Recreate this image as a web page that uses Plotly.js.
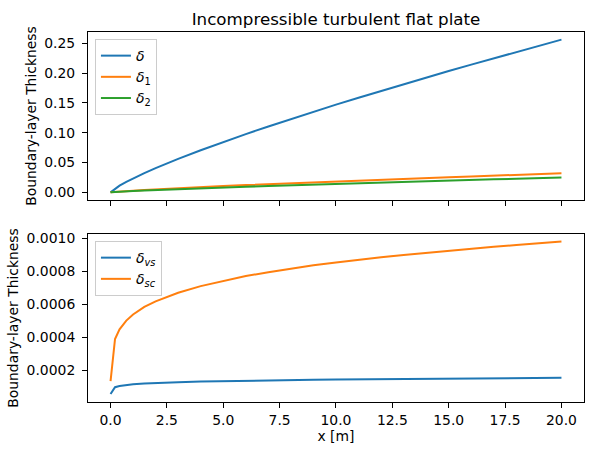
<!DOCTYPE html>
<html>
<head>
<meta charset="utf-8">
<script src="https://cdn.plot.ly/plotly-3.0.1.min.js"></script>
<style>html,body{margin:0;padding:0;background:#fff;}#chart{width:593px;height:455px;}</style>
</head>
<body>
<div id="chart"></div>
<script>
// x positions [m]
const xPos = [0.001, 0.2, 0.4, 0.7, 1, 1.5, 2, 2.5, 3, 4, 5, 6, 7, 8, 9, 10, 11, 12, 13, 14, 15, 16, 17, 18, 19, 20];
// boundary-layer thickness delta
const delta = [0.0001, 0.00643, 0.01119, 0.01751, 0.0233, 0.0322, 0.0406, 0.0485, 0.0561, 0.0706, 0.0845, 0.0977, 0.1105, 0.1230, 0.1351, 0.1470, 0.1587, 0.1701, 0.1814, 0.1925, 0.2034, 0.2141, 0.2248, 0.2353, 0.2457, 0.2560];
// displacement thickness delta_1
const delta1 = [0.0000116, 0.0008, 0.0014, 0.0022, 0.0029, 0.0040, 0.0051, 0.0061, 0.0070, 0.0088, 0.0106, 0.0122, 0.0138, 0.0154, 0.0169, 0.0184, 0.0198, 0.0213, 0.0227, 0.0241, 0.0254, 0.0268, 0.0281, 0.0294, 0.0307, 0.0320];
// momentum thickness delta_2
const delta2 = [0.00001, 0.00063, 0.00109, 0.0017, 0.00227, 0.00313, 0.00395, 0.00472, 0.00545, 0.00686, 0.00822, 0.0095, 0.01074, 0.01196, 0.01313, 0.01429, 0.01543, 0.01654, 0.01764, 0.01871, 0.01977, 0.02082, 0.02186, 0.02288, 0.02389, 0.02489];
// viscous sublayer thickness
const deltaVs = [0.0000560, 0.0000978, 0.0001048, 0.0001109, 0.0001149, 0.0001196, 0.0001231, 0.0001259, 0.0001282, 0.0001320, 0.0001349, 0.0001374, 0.0001395, 0.0001414, 0.0001431, 0.0001446, 0.0001460, 0.0001473, 0.0001485, 0.0001496, 0.0001506, 0.0001516, 0.0001525, 0.0001534, 0.0001542, 0.0001550];
// sublayer (sc) thickness
const deltaSc = [0.000134, 0.000390, 0.000448, 0.000501, 0.000538, 0.000584, 0.000618, 0.000646, 0.000670, 0.000710, 0.000742, 0.000771, 0.000794, 0.000816, 0.000836, 0.000853, 0.000870, 0.000885, 0.000899, 0.000912, 0.000925, 0.000937, 0.000948, 0.000959, 0.000970, 0.000980];

const xTicks = [0, 2.5, 5, 7.5, 10, 12.5, 15, 17.5, 20];
const xTickText = ["0.0", "2.5", "5.0", "7.5", "10.0", "12.5", "15.0", "17.5", "20.0"];
const yTopTicks = [0, 0.05, 0.10, 0.15, 0.20, 0.25];
const yBotTicks = [0.0002, 0.0004, 0.0006, 0.0008, 0.0010];

const C = ['#1f77b4', '#ff7f0e', '#2ca02c'];
const FONT = 'DejaVu Sans, sans-serif';
const FS = 13.9;

const traces = [
  {x: xPos, y: delta, name: '<i>δ</i>', mode: 'lines', line: {color: C[0], width: 2}, xaxis: 'x', yaxis: 'y', legend: 'legend'},
  {x: xPos, y: delta1, name: '<i>δ</i><sub>1</sub>', mode: 'lines', line: {color: C[1], width: 2}, xaxis: 'x', yaxis: 'y', legend: 'legend'},
  {x: xPos, y: delta2, name: '<i>δ</i><sub>2</sub>', mode: 'lines', line: {color: C[2], width: 2}, xaxis: 'x', yaxis: 'y', legend: 'legend'},
  {x: xPos, y: deltaVs, name: '<i>δ<sub>vs</sub></i>', mode: 'lines', line: {color: C[0], width: 2}, xaxis: 'x2', yaxis: 'y2', legend: 'legend2'},
  {x: xPos, y: deltaSc, name: '<i>δ<sub>sc</sub></i>', mode: 'lines', line: {color: C[1], width: 2}, xaxis: 'x2', yaxis: 'y2', legend: 'legend2'}
];

const axBase = {
  showgrid: false, zeroline: false, showline: true, mirror: true,
  linecolor: '#000', linewidth: 1, ticks: 'outside', ticklen: 5, tickwidth: 1, tickcolor: '#000',
  tickfont: {family: FONT, size: FS, color: '#000'}
};

const legendBase = {
  x: 0.014, xanchor: 'left', bgcolor: 'rgba(255,255,255,0.8)', bordercolor: '#ccc', borderwidth: 1,
  font: {family: FONT, size: 14, color: '#000'}, tracegroupgap: 0, itemwidth: 30
};

const layout = {
  width: 593, height: 455,
  paper_bgcolor: '#fff', plot_bgcolor: '#fff',
  margin: {l: 88, r: 9, t: 32, b: 53},
  showlegend: true,
  font: {family: FONT, color: '#000'},
  title: {text: 'Incompressible turbulent flat plate', font: {family: FONT, size: 16.7, color: '#000'},
          x: 0.5, xref: 'paper', y: 1 - 19/455, yref: 'container', yanchor: 'middle'},
  xaxis: Object.assign({}, axBase, {domain: [0, 1], range: [-0.999, 21.0], tickvals: xTicks, ticktext: xTickText,
          showticklabels: false, anchor: 'y'}),
  yaxis: Object.assign({}, axBase, {domain: [0.5459, 1], range: [-0.0128, 0.2688], tickvals: yTopTicks,
          tickformat: '.2f', anchor: 'x', ticklabelstandoff: 4,
          title: {text: 'Boundary-layer Thickness', font: {family: FONT, size: FS, color: '#000'}, standoff: 4}}),
  xaxis2: Object.assign({}, axBase, {domain: [0, 1], range: [-0.999, 21.0], tickvals: xTicks, ticktext: xTickText,
          anchor: 'y2', matches: 'x',
          title: {text: 'x [m]', font: {family: FONT, size: FS, color: '#000'}, standoff: 2}}),
  yaxis2: Object.assign({}, axBase, {domain: [0, 0.4541], range: [0.000008, 0.001026], tickvals: yBotTicks,
          tickformat: '.4f', anchor: 'x2', ticklabelstandoff: 4,
          title: {text: 'Boundary-layer Thickness', font: {family: FONT, size: FS, color: '#000'}, standoff: 4}}),
  legend: Object.assign({}, legendBase, {y: 0.981, yanchor: 'top', yref: 'paper'}),
  legend2: Object.assign({}, legendBase, {y: 0.435, yanchor: 'top', yref: 'paper'})
};

Plotly.newPlot('chart', traces, layout, {displayModeBar: false, staticPlot: true});
</script>
</body>
</html>
